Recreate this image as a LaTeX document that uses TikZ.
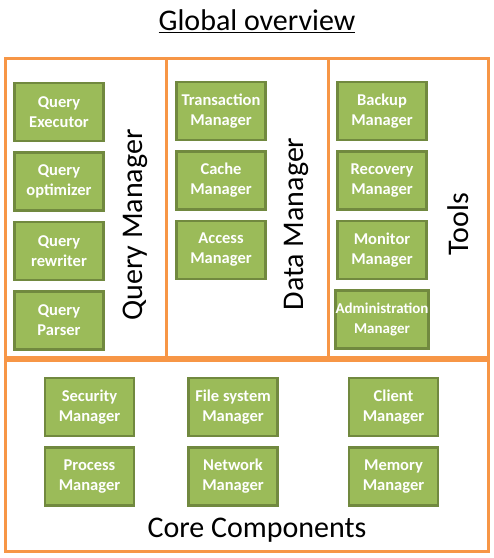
\documentclass[tikz,border=0pt]{standalone}
\usepackage{fontspec}
\setmainfont{Carlito}
\usetikzlibrary{positioning}
\definecolor{panelorange}{HTML}{F79646}
\definecolor{boxgreen}{HTML}{9BBB59}
\definecolor{boxedge}{HTML}{71893F}

\begin{document}
\begin{tikzpicture}[x=1pt, y=-1pt, node distance=9pt,
  panel/.style={draw=panelorange, line width=3pt},
  part/.style={draw=boxedge, fill=boxgreen, line width=2.5pt,
    minimum width=89pt, minimum height=58pt, inner sep=0pt, align=center,
    text=white, font=\fontsize{16.5}{20}\selectfont\bfseries},
  heading/.style={font=\fontsize{30}{36}\selectfont}]
  \useasboundingbox (0,0) rectangle (494,558);

  \node[heading] (title) at (257,21) {\underline{Global overview}};

  % frames
  \draw[panel] (5,58) rectangle (166,357);
  \draw[panel] (166,58) rectangle (328,357);
  \draw[panel] (328,58) rectangle (488,357);
  \draw[panel] (5,360) rectangle (488,551);

  % query manager
  \node[part] (qexec) at (59,112) {Query\\Executor};
  \node[part, below=of qexec] (qopt)  {Query\\optimizer};
  \node[part, below=of qopt]  (qrew)  {Query\\rewriter};
  \node[part, below=of qrew]  (qpars) {Query\\Parser};
  \node[heading, rotate=90] (qlabel) at (135,225) {Query Manager};

  % data manager
  \node[part] (trman) at (221,111) {Transaction\\Manager};
  \node[part, below=of trman] (caman) {Cache\\Manager};
  \node[part, below=of caman] (acman) {Access\\Manager};
  \node[heading, rotate=90] (dlabel) at (296,224) {Data Manager};

  % tools
  \node[part] (bkman) at (382,111) {Backup\\Manager};
  \node[part, below=of bkman] (rcman) {Recovery\\Manager};
  \node[part, below=of rcman] (moman) {Monitor\\Manager};
  \node[part, below=of moman, font=\fontsize{15}{20}\selectfont\bfseries] (adman) {Administration\\Manager};
  \node[heading, rotate=90] (tlabel) at (458,224) {Tools};

  % core components
  \node[part] (seman) at (89.5,407) {Security\\Manager};
  \node[part] (fsman) at (233,407) {File system\\Manager};
  \node[part] (clman) at (393.5,407) {Client\\Manager};
  \node[part, below=of seman] (prman) {Process\\Manager};
  \node[part, below=of fsman] (neman) {Network\\Manager};
  \node[part, below=of clman] (meman) {Memory\\Manager};
  \node[heading] (clabel) at (257,530) {Core Components};
\end{tikzpicture}
\end{document}
